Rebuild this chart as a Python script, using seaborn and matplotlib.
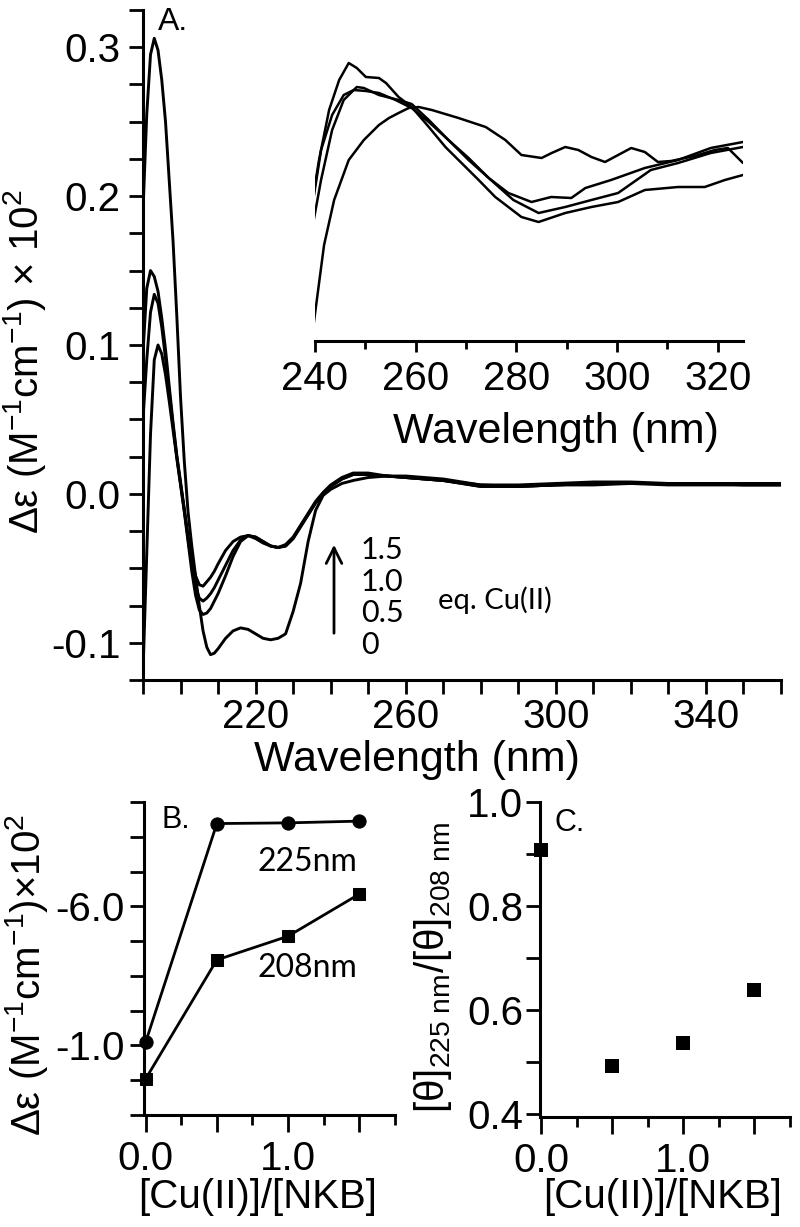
import numpy as np
import pandas as pd
import matplotlib
matplotlib.use("Agg")
import matplotlib.pyplot as plt
import seaborn as sns
from matplotlib.ticker import FixedLocator, MultipleLocator, NullFormatter, FixedFormatter

# ---------------- data ----------------
# Panel A: CD spectra (wavelength grid, nm)
wl = [190, 191, 192, 193, 194, 195, 196, 197, 198, 199, 200, 201, 202, 203, 204, 205,
      206, 207, 208, 209, 210, 212, 214, 216, 218, 220, 222, 224, 226, 228, 230, 232,
      234, 236, 238, 240, 243, 246, 250, 255, 260, 270, 280, 290, 300, 310, 320, 330,
      340, 350, 360]
eq0 = [0.19, 0.255, 0.295, 0.306, 0.298, 0.278, 0.25, 0.21, 0.17, 0.12, 0.065, 0.022,
       -0.012, -0.035, -0.055, -0.075, -0.092, -0.103, -0.108, -0.107, -0.104, -0.097,
       -0.092, -0.090, -0.091, -0.094, -0.097, -0.098, -0.097, -0.094, -0.079, -0.060,
       -0.032, -0.011, -0.001, 0.003, 0.007, 0.009, 0.011, 0.012, 0.012, 0.010, 0.006,
       0.006, 0.007, 0.008, 0.008, 0.007, 0.007, 0.007, 0.007]
eq05 = [-0.12, -0.04, 0.04, 0.09, 0.100, 0.094, 0.080, 0.062, 0.043, 0.024, 0.006,
        -0.012, -0.032, -0.052, -0.068, -0.078, -0.081, -0.080, -0.077, -0.072, -0.067,
        -0.055, -0.042, -0.032, -0.028, -0.029, -0.032, -0.035, -0.036, -0.035, -0.030,
        -0.022, -0.014, -0.006, 0.000, 0.005, 0.010, 0.013, 0.013, 0.012, 0.011, 0.009,
        0.005, 0.005, 0.006, 0.006, 0.007, 0.006, 0.006, 0.006, 0.006]
eq10 = [0.05, 0.09, 0.122, 0.134, 0.128, 0.112, 0.091, 0.068, 0.046, 0.025, 0.007,
        -0.011, -0.030, -0.048, -0.062, -0.070, -0.072, -0.070, -0.067, -0.063, -0.058,
        -0.048, -0.038, -0.031, -0.028, -0.029, -0.032, -0.035, -0.036, -0.035, -0.030,
        -0.022, -0.014, -0.006, 0.000, 0.005, 0.010, 0.013, 0.013, 0.012, 0.011, 0.009,
        0.005, 0.005, 0.006, 0.007, 0.007, 0.007, 0.007, 0.006, 0.006]
eq15 = [0.095, 0.138, 0.150, 0.146, 0.136, 0.118, 0.097, 0.072, 0.048, 0.026, 0.008,
        -0.010, -0.028, -0.044, -0.055, -0.061, -0.062, -0.059, -0.056, -0.052, -0.047,
        -0.038, -0.032, -0.029, -0.028, -0.030, -0.033, -0.035, -0.036, -0.034, -0.029,
        -0.021, -0.013, -0.005, 0.001, 0.006, 0.011, 0.014, 0.014, 0.012, 0.011, 0.009,
        0.006, 0.005, 0.006, 0.007, 0.007, 0.007, 0.007, 0.007, 0.007]

# Inset (arbitrary units, no y axis shown)
ins_a_wl = [239.5, 240.8, 242.8, 244.8, 246.7, 248.3, 250.1, 252.7, 254.1, 256.6, 259.2,
            262.6, 265.9, 269.9, 272.5, 275.8, 281.0, 284.4, 289.7, 294.9, 300.2, 305.5,
            312.1, 317.4, 321.4, 325.0]
ins_a = [1.41, 1.81, 2.31, 2.61, 2.78, 2.73, 2.64, 2.63, 2.58, 2.44, 2.34, 2.14, 1.94,
         1.74, 1.61, 1.44, 1.24, 1.19, 1.28, 1.34, 1.39, 1.51, 1.54, 1.54, 1.61, 1.66]
ins_b_wl = [239.5, 241.2, 243.4, 245.7, 248.3, 249.7, 252.7, 256.6, 259.2, 262.6, 266.5,
            270.5, 274.5, 278.4, 283.0, 286.9, 290.9, 293.7, 298.8, 305.5, 312.1, 318.6,
            325.0]
ins_b = [1.14, 1.61, 2.11, 2.41, 2.54, 2.53, 2.46, 2.41, 2.37, 2.21, 2.01, 1.83, 1.63,
         1.48, 1.39, 1.44, 1.43, 1.53, 1.61, 1.73, 1.81, 1.93, 1.99]
ins_c_wl = [239.5, 241.2, 243.4, 245.7, 247.7, 250.1, 252.7, 256.0, 259.2, 262.6, 266.5,
            270.5, 274.5, 279.4, 284.4, 289.7, 294.9, 300.2, 306.7, 312.1, 318.6, 325.0]
ins_c = [1.36, 1.91, 2.26, 2.46, 2.51, 2.50, 2.48, 2.41, 2.33, 2.19, 2.01, 1.81, 1.63,
         1.41, 1.28, 1.34, 1.41, 1.48, 1.71, 1.78, 1.88, 1.94]
ins_d_wl = [239.5, 241.8, 243.8, 246.7, 249.7, 252.7, 254.7, 256.6, 258.6, 260.6, 263.2,
            268.5, 273.9, 277.8, 281.0, 285.0, 287.0, 289.7, 292.3, 294.9, 297.6, 300.2,
            302.8, 305.5, 308.1, 310.7, 315.4, 319.4, 322.0, 325.0]
ins_d = [0.08, 0.96, 1.41, 1.81, 2.01, 2.16, 2.23, 2.28, 2.33, 2.34, 2.31, 2.23, 2.14,
         2.01, 1.86, 1.83, 1.88, 1.94, 1.91, 1.84, 1.79, 1.86, 1.93, 1.89, 1.79, 1.80,
         1.85, 1.91, 1.93, 1.78]

# Panel B and C
cu_ratio = [0.0, 0.5, 1.0, 1.5]
de_225 = [-9.9, -3.62, -3.60, -3.55]
de_208 = [-10.96, -7.54, -6.86, -5.65]
theta_ratio = [0.908, 0.492, 0.537, 0.638]

# ---------------- style ----------------
sns.set_theme(style="ticks")
plt.rcParams['font.family'] = ['Liberation Sans', 'DejaVu Sans']
plt.rcParams['mathtext.fontset'] = 'custom'
plt.rcParams['mathtext.rm'] = 'Liberation Sans'
plt.rcParams['mathtext.it'] = 'Liberation Sans:italic'
plt.rcParams['mathtext.default'] = 'regular'
plt.rcParams['axes.unicode_minus'] = False
plt.rcParams['text.color'] = 'black'
plt.rcParams['axes.labelcolor'] = 'black'
plt.rcParams['xtick.color'] = 'black'
plt.rcParams['ytick.color'] = 'black'

W, H = 800, 1227
fig = plt.figure(figsize=(W / 100, H / 100), dpi=100)
fig.patch.set_facecolor('white')


def rect(l, t, r, b):
    return [l / W, 1 - b / H, (r - l) / W, (b - t) / H]


def fx(x):
    return x / W


def fy(y):
    return 1 - y / H


TS = 29
SPW = 2.2


def style_axes(a):
    a.set_facecolor('none')
    for s in ['top', 'right']:
        a.spines[s].set_visible(False)
    for s in ['left', 'bottom']:
        a.spines[s].set_linewidth(SPW)
        a.spines[s].set_color('black')
    a.tick_params(which='both', direction='out', width=2, color='black',
                  labelsize=TS, labelcolor='black')
    a.set_xlabel('')
    a.set_ylabel('')


# ---------------- Panel A ----------------
ax = fig.add_axes(rect(143, 10, 781, 680))
for ys in [eq0, eq05, eq10, eq15]:
    sns.lineplot(x=wl, y=ys, ax=ax, color='black', linewidth=2.1,
                 estimator=None, sort=False, legend=False)
style_axes(ax)
ax.set_xlim(190, 360)
ax.set_ylim(-0.125, 0.325)
ax.xaxis.set_major_locator(FixedLocator([220, 260, 300, 340]))
ax.xaxis.set_minor_locator(MultipleLocator(10))
ax.yaxis.set_major_locator(FixedLocator([-0.1, 0.0, 0.1, 0.2, 0.3]))
ax.yaxis.set_major_formatter(FixedFormatter(['-0.1', '0.0', '0.1', '0.2', '0.3']))
ax.yaxis.set_minor_locator(MultipleLocator(0.025))
ax.tick_params(which='both', length=10)
ax.tick_params(axis='y', pad=6)
ax.tick_params(axis='x', pad=3)

# inset
axi = fig.add_axes(rect(315, 10, 743, 341))
for xs, ys in [(ins_a_wl, ins_a), (ins_b_wl, ins_b), (ins_c_wl, ins_c), (ins_d_wl, ins_d)]:
    sns.lineplot(x=xs, y=ys, ax=axi, color='black', linewidth=1.8,
                 estimator=None, sort=False, legend=False)
style_axes(axi)
axi.spines['left'].set_visible(False)
axi.yaxis.set_visible(False)
axi.set_xlim(240, 325)
axi.set_ylim(0, 3.31)
axi.xaxis.set_major_locator(MultipleLocator(20))
axi.xaxis.set_minor_locator(MultipleLocator(10))
axi.tick_params(which='major', length=8)
axi.tick_params(which='minor', length=6)
axi.tick_params(axis='x', pad=6)

fig.text(fx(556), fy(432), 'Wavelength (nm)', ha='center', va='center', fontsize=31)
fig.text(fx(417), fy(760), 'Wavelength (nm)', ha='center', va='center', fontsize=31)
fig.text(fx(25), fy(362), r'Δε (M$^{-1}$cm$^{-1}$) × 10$^{2}$', ha='center', va='center',
         rotation=90, fontsize=29)
fig.text(fx(158), fy(7), 'A.', ha='left', va='top', fontsize=23)

# annotation arrow and labels
fig.add_artist(matplotlib.patches.FancyArrowPatch(
    (fx(334), fy(636)), (fx(334), fy(542)), transform=fig.transFigure,
    arrowstyle='->', mutation_scale=28, linewidth=2, color='black'))
AF = ['Lato', 'DejaVu Sans']
for lab, yy in [('1.5', 550), ('1.0', 582), ('0.5', 613), ('0', 645)]:
    fig.text(fx(361), fy(yy), lab, ha='left', va='center', fontsize=22, family=AF)
fig.text(fx(438), fy(600), 'eq. Cu(II)', ha='left', va='center', fontsize=21, family=AF)

# ---------------- Panel B ----------------
axb = fig.add_axes(rect(144, 802, 395, 1115))
sns.lineplot(x=cu_ratio, y=de_225, ax=axb, color='black', linewidth=2, marker='o',
             markersize=9.5, markeredgecolor='black', estimator=None, legend=False,
             clip_on=False)
sns.lineplot(x=cu_ratio, y=de_208, ax=axb, color='black', linewidth=2, marker='s',
             markersize=9, markeredgecolor='black', estimator=None, legend=False,
             clip_on=False)
style_axes(axb)
axb.set_xlim(-0.012, 1.752)
axb.set_ylim(-12, -3)
axb.xaxis.set_major_locator(FixedLocator([0.0, 0.5, 1.0, 1.5]))
axb.xaxis.set_major_formatter(FixedFormatter(['0.0', '', '1.0', '']))
axb.xaxis.set_minor_locator(MultipleLocator(0.25))
axb.yaxis.set_major_locator(FixedLocator([-10, -6]))
axb.yaxis.set_major_formatter(FixedFormatter(['-1.0', '-6.0']))
axb.yaxis.set_minor_locator(MultipleLocator(1))
axb.tick_params(axis='x', which='major', length=12, pad=6)
axb.tick_params(axis='x', which='minor', length=7)
axb.tick_params(axis='y', which='both', length=10, pad=4)
fig.text(fx(162), fy(805), 'B.', ha='left', va='top', fontsize=22)
fig.text(fx(307), fy(862), '225nm', ha='center', va='center', fontsize=23, family=AF)
fig.text(fx(307), fy(968), '208nm', ha='center', va='center', fontsize=23, family=AF)
fig.text(fx(258), fy(1197), '[Cu(II)]/[NKB]', ha='center', va='center', fontsize=29)
fig.text(fx(27), fy(975), r'Δε (M$^{-1}$cm$^{-1}$)×10$^{2}$', ha='center', va='center',
         rotation=90, fontsize=29)

# ---------------- Panel C ----------------
axc = fig.add_axes(rect(540, 802, 790, 1117))
sns.scatterplot(x=cu_ratio, y=theta_ratio, ax=axc, color='black', marker='s', s=90,
                edgecolor='black', linewidth=0, legend=False, clip_on=False)
style_axes(axc)
axc.set_xlim(-0.007, 1.75)
axc.set_ylim(0.394, 1.0)
axc.xaxis.set_major_locator(FixedLocator([0.0, 0.5, 1.0, 1.5]))
axc.xaxis.set_major_formatter(FixedFormatter(['0.0', '', '1.0', '']))
axc.xaxis.set_minor_locator(MultipleLocator(0.25))
axc.yaxis.set_major_locator(FixedLocator([0.4, 0.6, 0.8, 1.0]))
axc.yaxis.set_major_formatter(FixedFormatter(['0.4', '0.6', '0.8', '1.0']))
axc.yaxis.set_minor_locator(MultipleLocator(0.1))
axc.tick_params(axis='x', which='major', length=12, pad=6)
axc.tick_params(axis='x', which='minor', length=7)
axc.tick_params(axis='y', which='both', length=10, pad=2)
fig.text(fx(555), fy(808), 'C.', ha='left', va='top', fontsize=22)
fig.text(fx(663), fy(1197), '[Cu(II)]/[NKB]', ha='center', va='center', fontsize=29)
fig.text(fx(433), fy(968), r'[θ]$_{225\ nm}$/[θ]$_{208\ nm}$', ha='center', va='center',
         rotation=90, fontsize=29)

fig.savefig('out.png', dpi=100, facecolor='white')
